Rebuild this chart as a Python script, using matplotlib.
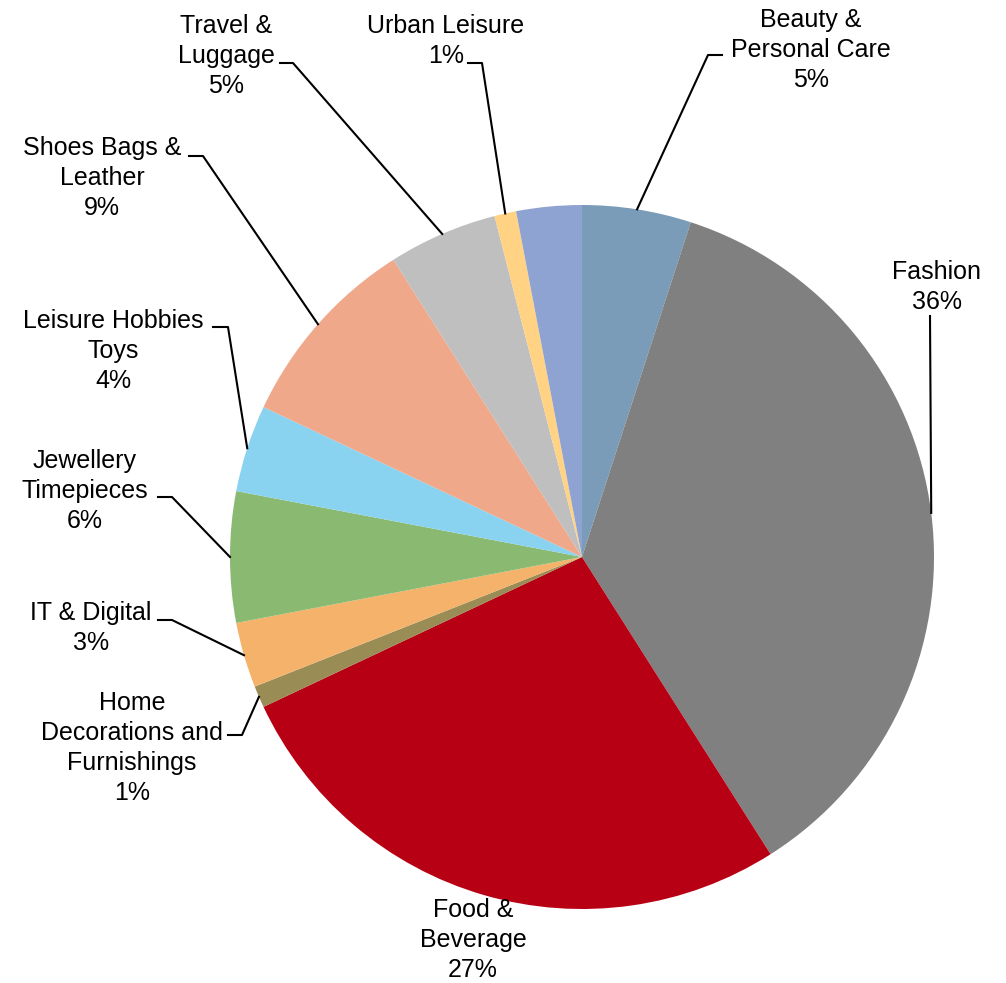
import numpy as np
import matplotlib
matplotlib.use("Agg")
import matplotlib.pyplot as plt

plt.rcParams['font.family'] = ['Liberation Sans', 'DejaVu Sans']

categories = ["Beauty &\nPersonal Care", "Fashion", "Food &\nBeverage",
              "Home\nDecorations and\nFurnishings", "IT & Digital",
              "Jewellery\nTimepieces", "Leisure Hobbies\nToys",
              "Shoes Bags &\nLeather", "Travel &\nLuggage", "Urban Leisure", ""]
shares = [5, 36, 27, 1, 3, 6, 4, 9, 5, 1, 3]
colors = ["#7a9cb8", "#808080", "#b80015", "#9a8c55", "#f4b26b", "#8aba72",
          "#89d3f0", "#f0a88b", "#bfbfbf", "#ffd383", "#8fa3d3"]

W, H = 1006, 983
# label centre and leader elbow/end points, in pixels from the top-left
label_pos = [(811, 50), (937, 287), (473, 940), (132, 748), (91, 628),
             (85, 491), (113, 351), (102, 178), (226, 56), (446, 41), None]
leader = [[(708, 55), (722, 55)], [(930, 316)], None, [(242, 735), (228, 735)],
          [(172, 620), (158, 620)], [(172, 497), (158, 497)],
          [(228, 327), (213, 327)], [(203, 156), (189, 156)],
          [(293, 63), (280, 63)], [(482, 63), (468, 63)], None]

fig = plt.figure(figsize=(W / 100, H / 100), dpi=100)
ax = fig.add_axes([0, 0, 1, 1])
cx, cy, r = 582, H - 557, 352
wedges, _ = ax.pie(shares, colors=colors, startangle=90, counterclock=False,
                   center=(cx, cy), radius=r, frame=True,
                   wedgeprops=dict(linewidth=0))
ax.set_xlim(0, W)
ax.set_ylim(0, H)
ax.set_aspect('equal')
ax.axis('off')

for w, name, val, pos, pts in zip(wedges, categories, shares, label_pos, leader):
    if pos is None:
        continue
    ax.text(pos[0], H - pos[1], f"{name}\n{val}%", ha='center', va='center',
            fontsize=18, linespacing=1.32, multialignment='center')
    if pts is None:
        continue
    mid = np.deg2rad((w.theta1 + w.theta2) / 2)
    xs = [cx + r * np.cos(mid)] + [p[0] for p in pts]
    ys = [cy + r * np.sin(mid)] + [H - p[1] for p in pts]
    ax.plot(xs, ys, color='black', lw=1.5)

fig.savefig("out.png", dpi=100)
